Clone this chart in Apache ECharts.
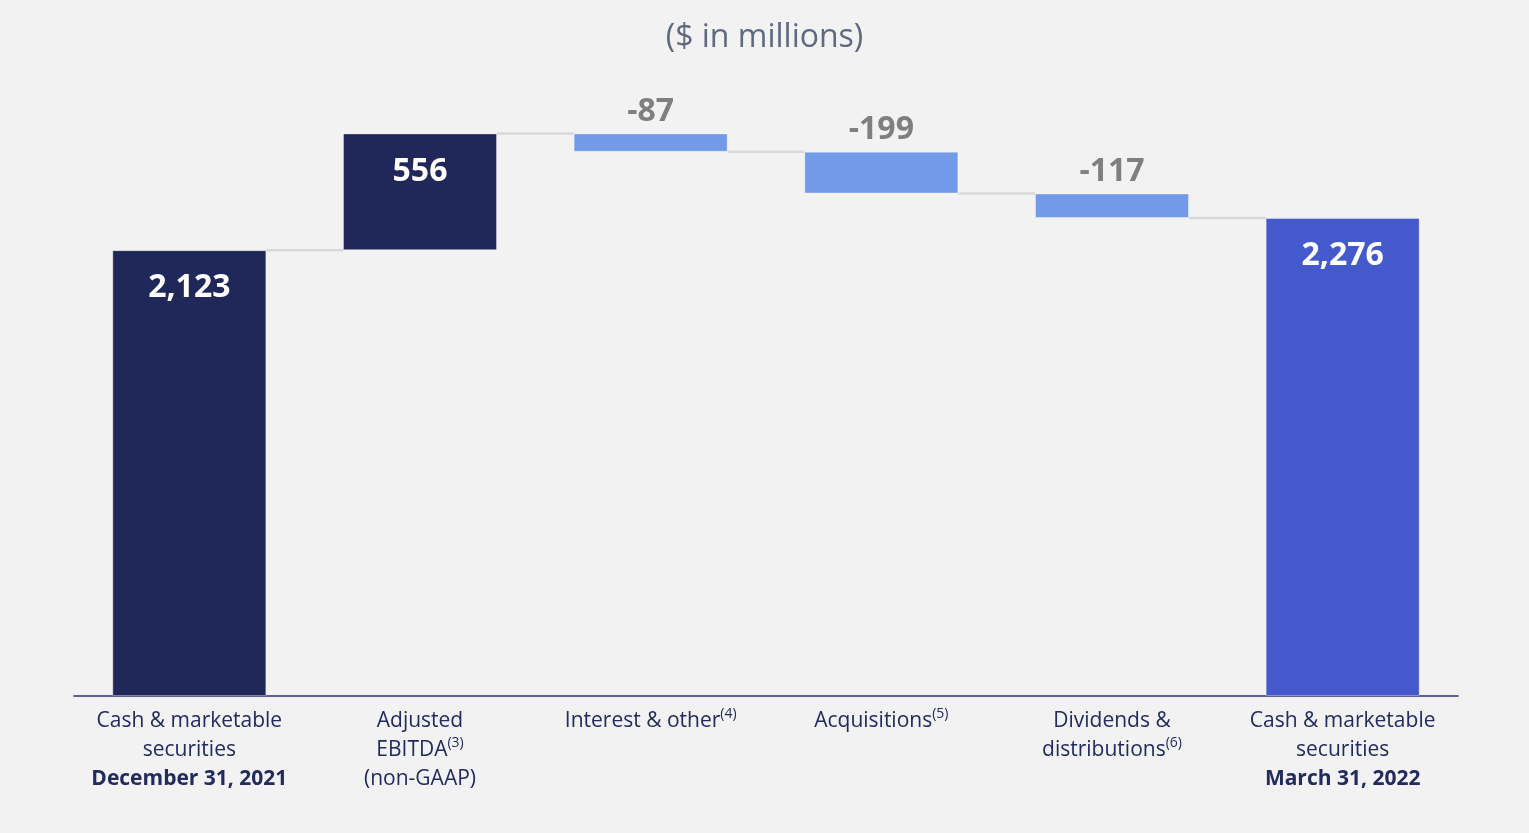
<!DOCTYPE html>
<html><head><meta charset="utf-8">
<script src="https://cdn.jsdelivr.net/npm/echarts@6/dist/echarts.min.js"></script>
<style>html,body{margin:0;padding:0;background:#f2f2f2}#c{width:1529px;height:833px}</style>
</head><body><div id="c"></div>
<script>
const categories = ['Cash & marketable\nsecurities', 'Adjusted\nEBITDA', 'Interest & other', 'Acquisitions', 'Dividends &\ndistributions', 'Cash & marketable\nsecurities'];
const footnotes = ['', '3', '4', '5', '6', ''];
const dateLines = ['December 31, 2021', '(non-GAAP)', '', '', '', 'March 31, 2022'];
const startValue = 2123;
const changes = [556, -87, -199, -117];
const endValue = 2276;

// build waterfall from data
const base = [0], height = [startValue], signed = [startValue], totals = [startValue];
let run = startValue;
changes.forEach(c => {
  const next = run + c;
  base.push(Math.min(run, next));
  height.push(Math.abs(c));
  signed.push(c);
  run = next;
  totals.push(run);
});
base.push(0); height.push(endValue); signed.push(endValue); totals.push(endValue);

const colDark = '#20285a', colNeg = '#7399e9', colEnd = '#4459cc';
const itemColor = i => i === categories.length - 1 ? colEnd : (signed[i] < 0 ? colNeg : colDark);

const fontFam = '"Open Sans", "Noto Sans", sans-serif';

const chart = echarts.init(document.getElementById('c'));
chart.setOption({
  backgroundColor: '#f2f2f2',
  animation: false,
  title: {
    text: '($ in millions)', left: 'center', top: 17,
    textStyle: { color: '#5f6a80', fontSize: 32, fontWeight: 'normal', fontFamily: fontFam }
  },
  grid: { left: 74, right: 71, top: 66, bottom: 137 },
  xAxis: {
    type: 'category', data: categories,
    axisLine: { lineStyle: { color: '#2b3270', width: 1.5 } },
    axisTick: { show: false },
    axisLabel: {
      interval: 0, margin: 11,
      formatter: (v, i) => {
        const lines = v.split('\n').map(s => '{n|' + s + '}');
        if (footnotes[i]) lines[lines.length - 1] += '{sup|(' + footnotes[i] + ')}';
        if (dateLines[i]) {
          lines.push(i === 0 || i === categories.length - 1 ? '{b|' + dateLines[i] + '}' : '{n|' + dateLines[i] + '}');
        }
        return lines.join('\n');
      },
      rich: {
        n: { fontSize: 21, color: '#222a5e', fontFamily: fontFam, lineHeight: 29 },
        b: { fontSize: 21, color: '#222a5e', fontFamily: fontFam, fontWeight: 'bold', lineHeight: 29 },
        sup: { fontSize: 14, color: '#222a5e', fontFamily: fontFam, verticalAlign: 'top', lineHeight: 29, padding: [0, 0, 10, 0] }
      }
    }
  },
  yAxis: { type: 'value', min: 0, max: 3000, show: false, splitLine: { show: false } },
  series: [
    {
      type: 'bar', stack: 'w', data: base, barWidth: 154,
      itemStyle: { color: 'transparent' }, silent: true
    },
    {
      type: 'bar', stack: 'w', barWidth: 154,
      data: height.map((h, i) => {
        const neg = signed[i] < 0;
        return {
          value: h,
          itemStyle: { color: itemColor(i), borderColor: 'rgba(255,255,255,0.35)', borderWidth: 1 },
          label: {
            show: true,
            position: neg ? 'top' : 'insideTop',
            distance: neg ? 6 : 22,
            formatter: () => (neg ? '-' : '') + Math.abs(signed[i]).toLocaleString('en-US'),
            color: neg ? '#7f7f7f' : '#ffffff',
            fontSize: 32, fontWeight: 'bold', fontFamily: fontFam
          }
        };
      })
    },
    {
      type: 'custom', z: 1, silent: true,
      data: totals.slice(0, totals.length - 1).map((t, i) => [i, t]),
      renderItem: (params, api) => {
        const i = api.value(0), t = api.value(1);
        const p1 = api.coord([i, t]), p2 = api.coord([i + 1, t]);
        const half = 77;
        return {
          type: 'line',
          shape: { x1: p1[0] + half, y1: p1[1], x2: p2[0] - half, y2: p2[1] },
          style: { stroke: '#d9d9d9', lineWidth: 2.5 }
        };
      }
    }
  ]
});
</script></body></html>
